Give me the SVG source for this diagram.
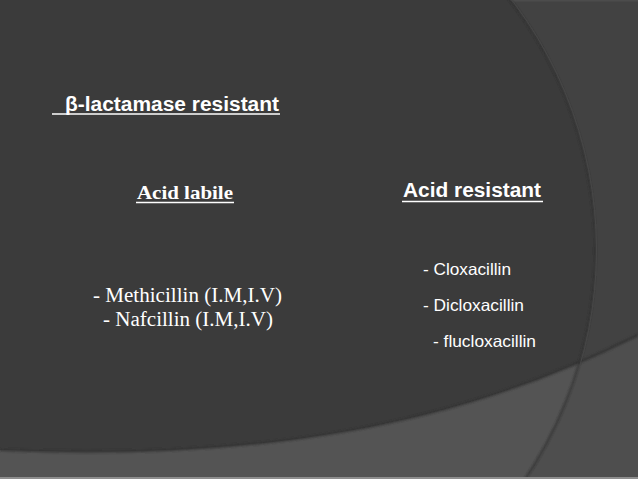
<svg xmlns="http://www.w3.org/2000/svg" width="638" height="479" viewBox="0 0 638 479">
  <style>
    .sans { font-family: "Liberation Sans", Arial, sans-serif; fill: #ffffff; }
    .serif { font-family: "Liberation Serif", "Times New Roman", serif; fill: #ffffff; }
    .ul { stroke: #ffffff; stroke-width: 1.6; }
  </style>
  <defs>
    <clipPath id="circClip">
      <circle cx="185" cy="250" r="410"/>
    </clipPath>
    <filter id="soft" x="-5%" y="-5%" width="110%" height="110%">
      <feGaussianBlur stdDeviation="0.8"/>
    </filter>
  </defs>

  <g id="background">
    <rect x="0" y="0" width="638" height="479" fill="#424242"/>
    <rect x="0" y="0" width="638" height="1.5" fill="#4c4c4c"/>
    <circle cx="185" cy="250" r="410" fill="#3b3b3b"/>
    <path d="M0,450 C250,460 450,430 638,335 L638,479 L0,479 Z" fill="#4e4e4e"/>
    <path d="M0,450 C250,460 450,430 638,335 L638,479 L0,479 Z" fill="#545454" clip-path="url(#circClip)"/>
    <path d="M0,450 C250,460 450,430 638,335" fill="none" stroke="#333333" stroke-width="2" filter="url(#soft)"/>
    <circle cx="185" cy="250" r="410" fill="none" stroke="#303030" stroke-width="1.6" filter="url(#soft)"/>
    <circle cx="185" cy="250" r="411.5" fill="none" stroke="#474747" stroke-width="1"/>
    <rect x="0" y="477" width="638" height="2" fill="#8e8e8e"/>
  </g>

  <g id="title">
    <text class="sans" x="65" y="111" font-size="20" font-weight="bold" textLength="214" lengthAdjust="spacingAndGlyphs">β-lactamase resistant</text>
    <line class="ul" x1="52" y1="114" x2="280" y2="114"/>
  </g>

  <g id="acid-labile">
    <text class="serif" x="137" y="199" font-size="19.5" font-weight="bold" textLength="96" lengthAdjust="spacingAndGlyphs">Acid labile</text>
    <line class="ul" x1="136" y1="202.5" x2="234" y2="202.5"/>
  </g>

  <g id="acid-resistant">
    <text class="sans" x="403" y="197" font-size="20" font-weight="bold" textLength="138" lengthAdjust="spacingAndGlyphs">Acid resistant</text>
    <line class="ul" x1="402" y1="201.5" x2="543" y2="201.5"/>
  </g>

  <g id="labile-list">
    <text class="serif" x="93" y="302" font-size="20.5" textLength="189" lengthAdjust="spacingAndGlyphs">- Methicillin (I.M,I.V)</text>
    <text class="serif" x="103" y="326" font-size="20.5" textLength="170" lengthAdjust="spacingAndGlyphs">- Nafcillin (I.M,I.V)</text>
  </g>

  <g id="resistant-list">
    <text class="sans" x="423" y="275" font-size="16.5" textLength="88" lengthAdjust="spacingAndGlyphs">- Cloxacillin</text>
    <text class="sans" x="423" y="311" font-size="16.5" textLength="101" lengthAdjust="spacingAndGlyphs">- Dicloxacillin</text>
    <text class="sans" x="433" y="346.5" font-size="16.5" textLength="103" lengthAdjust="spacingAndGlyphs">- flucloxacillin</text>
  </g>
</svg>
